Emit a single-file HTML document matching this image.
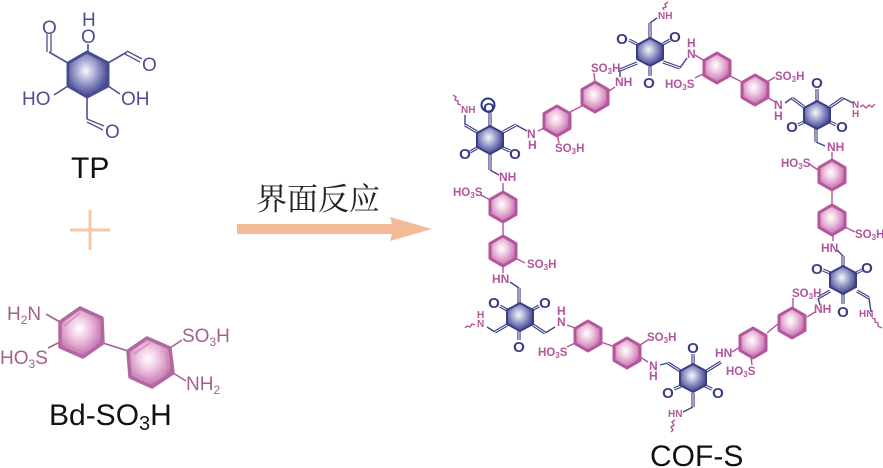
<!DOCTYPE html>
<html><head><meta charset="utf-8"><style>
html,body{margin:0;padding:0;background:#fff}
svg{display:block}
text{font-family:"Liberation Sans",sans-serif}
.p{fill:#b2559b;font-size:11.5px;font-weight:bold}
.o{fill:#3a3d85;font-size:15px;font-weight:bold;text-anchor:middle}
.s{font-size:8px}
.tp{fill:#4d4f8e;font-size:19px}
.bd{fill:#a3608f;font-size:19px}
.bs{font-size:12px}
.big{fill:#111;font-size:30px}
</style></head><body>
<svg width="883" height="468" viewBox="0 0 883 468" xmlns="http://www.w3.org/2000/svg">
<defs>
<radialGradient id="gb" cx=".45" cy=".42" r=".6"><stop offset="0" stop-color="#f8f8fc"/><stop offset=".3" stop-color="#bcbedd"/><stop offset=".72" stop-color="#6a6dab"/><stop offset="1" stop-color="#3c4088"/></radialGradient>
<radialGradient id="gp" cx=".45" cy=".42" r=".6"><stop offset="0" stop-color="#fff"/><stop offset=".35" stop-color="#f1cde4"/><stop offset=".8" stop-color="#cf84ba"/><stop offset="1" stop-color="#b4559c"/></radialGradient>
<polygon id="br" points="0,-14 13,-7 13,7 0,14 -13,7 -13,-7" fill="url(#gb)" stroke="#3a3d85" stroke-width="2" stroke-linejoin="round"/>
<polygon id="pr" points="0,-15 13,-7.5 13,7.5 0,15 -13,7.5 -13,-7.5" fill="url(#gp)" stroke="#b4569b" stroke-width="3" stroke-linejoin="round"/>
<g id="dbl" fill="none">
<path d="M477,132L465,125M503,132L516,125M490,154V170M490,126V113M477,148L470,152M503,148L510,151"/>
<path d="M650,39V23M637,63L620,70M663,62L680,68M637,44L629,40M663,44L670,40M650,67V76"/>
<path d="M804,107L792,98M830,107L843,98M816,128V142M817,101V89M804,122L798,125M830,122L836,125"/>
<path d="M830,291L818,298M857,291L869,298M843,256V268M843,294V304M830,273L823,270M856,273L862,270"/>
<path d="M682,372L668,363M705,372L721,362M693,393V407M693,365V354M681,386L674,389M705,386L712,389"/>
<path d="M507,325L495,332M533,325L545,333M519,305V288M519,331V340M507,310L500,306M532,310L539,306"/>
</g>
</defs>

<!-- TP -->
<g fill="none" stroke="#4d4f8e" stroke-width="1.6">
<path d="M68,63L49,52M108,63L127,52M68,86L54,95M108,86L120,94M87,97V119M88,52V44"/>
</g>
<polygon points="87,52 108,63 108,86 87,97 68,86 68,63" fill="url(#gb)" stroke="#4a4c90" stroke-width="3" stroke-linejoin="round"/>
<path d="M47,52V34M51,52V34M127,51L142,59M125,54L140,62M87,119L104,126M87,122L103,130" stroke="#4d4f8e" stroke-width="1.3" fill="none"/>
<text class="tp" x="82" y="26">H</text>
<text class="tp" x="81" y="43">O</text>
<text class="tp" x="42" y="34">O</text>
<text class="tp" x="142" y="71">O</text>
<text class="tp" x="105" y="138">O</text>
<text class="tp" x="22" y="105">HO</text>
<text class="tp" x="121" y="105">OH</text>
<text class="big" x="71" y="178">TP</text>

<!-- plus and arrow -->
<path d="M70,230H110M90,210V250" stroke="#f5c8a8" stroke-width="3" fill="none"/>
<path d="M237,224H392L390,217L432,229L390,241L392,234H237Z" fill="#f4bb98"/>
<text x="256" y="210" style="font-family:'Liberation Serif','Noto Serif CJK SC',serif;font-size:31px;fill:#222">界面反应</text>

<!-- Bd-SO3H -->
<path d="M46,314L60,322M48,348L60,342M103,343L128,351M170,348L182,340M173,373L186,381" stroke="#a3608f" stroke-width="1.6" fill="none"/>
<polygon points="80,308 102,318 103,343 83,357 60,347 60,322" fill="url(#gp)" stroke="#b06a9f" stroke-width="3.5" stroke-linejoin="round"/>
<polygon points="147,338 170,348 173,373 152,387 130,377 128,351" fill="url(#gp)" stroke="#b06a9f" stroke-width="3.5" stroke-linejoin="round"/>
<path d="M98,322L99,341M82,352L65,344M64,326L80,313M134,354L150,343M166,351L168,370M135,374L152,382" stroke="#c98cba" stroke-width="1.2" fill="none"/>
<text class="bd" x="7" y="320">H<tspan class="bs" dy="4">2</tspan><tspan dy="-4">N</tspan></text>
<text class="bd" x="0" y="364">HO<tspan class="bs" dy="4">3</tspan><tspan dy="-4">S</tspan></text>
<text class="bd" x="182" y="342">SO<tspan class="bs" dy="4">3</tspan><tspan dy="-4">H</tspan></text>
<text class="bd" x="186" y="390">NH<tspan class="bs" dy="4">2</tspan></text>
<text class="big" x="49" y="425">Bd-SO<tspan style="font-size:20px" dy="5">3</tspan><tspan dy="-5">H</tspan></text>

<!-- COF single blue bonds -->
<g fill="none" stroke="#3f4389" stroke-width="1.4">
<path d="M465,125V115M516,125L527,131M490,170L499,175M650,23L657,18M620,70V77M680,68L687,58M792,98L785,103M843,98L853,103M816,142L825,146M818,298L820,305M869,298L871,312M843,256L837,250M668,363L660,365M693,407L683,412M545,333L555,327M495,332L487,327M519,288L510,282"/>
</g>
<!-- double bonds -->
<use href="#dbl" stroke="#3a3d85" stroke-width="3.2"/>
<use href="#dbl" stroke="#fff" stroke-width="1"/>

<!-- COF pink bonds and wiggles -->
<g fill="none" stroke="#b2559b" stroke-width="1.4">
<path d="M503,183V193M481,195L490,200M503,222V238M515,258L525,263M503,266V273M557,134L559,143M570,112L582,106M594,73L595,83M606,93L615,87M695,55L703,60M695,78L703,74M728,75L742,82M767,82L775,77M767,97L775,102M544,128L538,131M832,152V162M808,163L818,170M832,190V207M845,227L855,232M833,230V241M793,298V308M815,312L807,317M779,323L767,333M732,352L740,347M752,365L751,357M648,362L640,357M640,345L648,340M601,342L615,347M567,325L575,328M567,347L575,343"/>
<path d="M453,95l3,2l-1,3l3,1l0,3l3,1M668,2l-3,2l1,3l-3,1l1,2M860,107l3,-2l3,3l3,-3l3,2l3,-3M872,318l3,1l0,3l3,1l0,3l4,2M675,420l-3,2l2,3l-3,2l2,3l-2,2M475,325l-3,-1l-2,3l-3,-1l-2,2"/>
</g>

<!-- rings -->
<use href="#pr" x="557" y="121"/><use href="#pr" x="595" y="97"/>
<use href="#pr" x="717" y="68"/><use href="#pr" x="755" y="90"/>
<use href="#pr" x="832" y="175"/><use href="#pr" x="832" y="220"/>
<use href="#pr" x="792" y="323"/><use href="#pr" x="753" y="343"/>
<use href="#pr" x="627" y="353"/><use href="#pr" x="588" y="336"/>
<use href="#pr" x="503" y="251"/><use href="#pr" x="503" y="207"/>
<use href="#br" x="490" y="140"/><use href="#br" x="650" y="52"/>
<use href="#br" x="817" y="115"/><use href="#br" x="843" y="280"/>
<use href="#br" x="693" y="378"/><use href="#br" x="520" y="317"/>

<!-- O labels -->
<text class="o" x="489" y="113">O</text>
<circle cx="488" cy="105" r="6.5" fill="none" stroke="#2f3580" stroke-width="2"/>
<text class="o" x="465" y="159">O</text><text class="o" x="515" y="159">O</text>
<text class="o" x="622" y="44">O</text><text class="o" x="675" y="42">O</text><text class="o" x="649" y="88">O</text>
<text class="o" x="817" y="88">O</text><text class="o" x="792" y="132">O</text><text class="o" x="842" y="132">O</text>
<text class="o" x="817" y="274">O</text><text class="o" x="867" y="273">O</text><text class="o" x="843" y="317">O</text>
<text class="o" x="693" y="353">O</text><text class="o" x="668" y="398">O</text><text class="o" x="718" y="398">O</text>
<text class="o" x="494" y="308">O</text><text class="o" x="545" y="308">O</text><text class="o" x="519" y="352">O</text>

<!-- pink labels -->
<g>
<text class="p" x="461" y="113" style="font-size:10px">NH</text>
<text class="p" x="527" y="138" style="font-size:12px">N</text><text class="p" x="528" y="149" style="font-size:12px">H</text>
<text class="p" x="499" y="181" style="font-size:12px">NH</text>
<text class="p" x="453" y="196">HO<tspan class="s" dy="2">3</tspan><tspan dy="-2">S</tspan></text>
<text class="p" x="555" y="152">SO<tspan class="s" dy="2">3</tspan><tspan dy="-2">H</tspan></text>
<text class="p" x="591" y="72">SO<tspan class="s" dy="2">3</tspan><tspan dy="-2">H</tspan></text>
<text class="p" x="615" y="86" style="font-size:12px">NH</text>
<text class="p" x="658" y="19" style="font-size:10px">NH</text>
<text class="p" x="687" y="58" style="font-size:12px">N</text><text class="p" x="687" y="47" style="font-size:12px">H</text>
<text class="p" x="665" y="88">HO<tspan class="s" dy="2">3</tspan><tspan dy="-2">S</tspan></text>
<text class="p" x="775" y="80">SO<tspan class="s" dy="2">3</tspan><tspan dy="-2">H</tspan></text>
<text class="p" x="774" y="109" style="font-size:12px">N</text><text class="p" x="774" y="120" style="font-size:12px">H</text>
<text class="p" x="852" y="108" style="font-size:10px">N</text><text class="p" x="852" y="117" style="font-size:10px">H</text>
<text class="p" x="827" y="151" style="font-size:12px">NH</text>
<text class="p" x="781" y="167">HO<tspan class="s" dy="2">3</tspan><tspan dy="-2">S</tspan></text>
<text class="p" x="855" y="238">SO<tspan class="s" dy="2">3</tspan><tspan dy="-2">H</tspan></text>
<text class="p" x="821" y="252" style="font-size:12px">HN</text>
<text class="p" x="792" y="297">SO<tspan class="s" dy="2">3</tspan><tspan dy="-2">H</tspan></text>
<text class="p" x="814" y="313" style="font-size:12px">NH</text>
<text class="p" x="859" y="317" style="font-size:10px">HN</text>
<text class="p" x="715" y="357" style="font-size:12px">HN</text>
<text class="p" x="726" y="375">HO<tspan class="s" dy="2">3</tspan><tspan dy="-2">S</tspan></text>
<text class="p" x="647" y="341">SO<tspan class="s" dy="2">3</tspan><tspan dy="-2">H</tspan></text>
<text class="p" x="649" y="370" style="font-size:12px">N</text><text class="p" x="649" y="380" style="font-size:12px">H</text>
<text class="p" x="668" y="417" style="font-size:10px">HN</text>
<text class="p" x="557" y="326" style="font-size:12px">N</text><text class="p" x="557" y="315" style="font-size:12px">H</text>
<text class="p" x="538" y="356">HO<tspan class="s" dy="2">3</tspan><tspan dy="-2">S</tspan></text>
<text class="p" x="477" y="327" style="font-size:10px">N</text><text class="p" x="477" y="318" style="font-size:10px">H</text>
<text class="p" x="492" y="283" style="font-size:12px">HN</text>
<text class="p" x="527" y="268">SO<tspan class="s" dy="2">3</tspan><tspan dy="-2">H</tspan></text>
</g>
<text class="big" x="650" y="466">COF-S</text>
</svg>
</body></html>
